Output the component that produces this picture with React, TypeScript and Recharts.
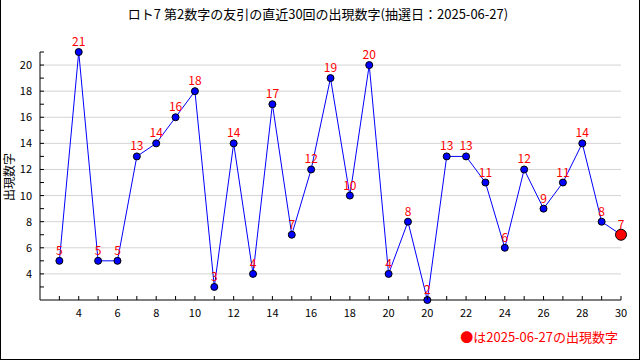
import React from 'react';
import { LineChart, Line, XAxis, YAxis, ReferenceLine, LabelList } from 'recharts';

const draws = [1, 2, 3, 4, 5, 6, 7, 8, 9, 10, 11, 12, 13, 14, 15, 16, 17, 18, 19, 20, 21, 22, 23, 24, 25, 26, 27, 28, 29, 30];
const values = [5, 21, 5, 5, 13, 14, 16, 18, 3, 14, 4, 17, 7, 12, 19, 10, 20, 4, 8, 2, 13, 13, 11, 6, 12, 9, 11, 14, 8, 7];

const xLabelPositions = [2, 4, 6, 8, 10, 12, 14, 16, 18, 20, 22, 24, 26, 28, 30];
const xLabelTexts = ['4', '6', '8', '10', '12', '14', '16', '18', '20', '20', '22', '24', '26', '28', '30'];

const yTicks = [3, 4, 5, 6, 7, 8, 9, 10, 11, 12, 13, 14, 15, 16, 17, 18, 19, 20, 21];
const yLabelValues = [4, 6, 8, 10, 12, 14, 16, 18, 20];
const yDomain = [2, 21];

const title = 'ロト7 第2数字の友引の直近30回の出現数字(抽選日：2025-06-27)';
const yAxisTitle = '出現数字';
const legendText = '●は2025-06-27の出現数字';

const data = draws.map((d, i) => ({ draw: d, value: values[i] }));

const FONT = '"Noto Sans CJK JP", "DejaVu Sans", sans-serif';

const renderXTick = (props: any) => {
  const { x, y, payload } = props;
  const idx = xLabelPositions.indexOf(payload.value);
  return (
    <g>
      <line x1={x} y1={y} x2={x} y2={y - 4} stroke="#000" strokeWidth={1} />
      {idx >= 0 && (
        <text x={x} y={y + 17} textAnchor="middle" fontSize={11} fontFamily={FONT} fill="#000">
          {xLabelTexts[idx]}
        </text>
      )}
    </g>
  );
};

const renderYTick = (props: any) => {
  const { x, y, payload } = props;
  const show = yLabelValues.indexOf(payload.value) >= 0;
  return (
    <g>
      <line x1={x} y1={y} x2={x + 4} y2={y} stroke="#000" strokeWidth={1} />
      {show && (
        <text x={x - 8} y={y + 4} textAnchor="end" fontSize={11} fontFamily={FONT} fill="#000">
          {payload.value}
        </text>
      )}
    </g>
  );
};

const renderDot = (props: any) => {
  const { cx, cy, index } = props;
  const last = index === values.length - 1;
  return (
    <circle
      key={`dot-${index}`}
      cx={cx}
      cy={cy}
      r={last ? 5.5 : 3.5}
      fill={last ? '#ff0000' : '#0000ff'}
      stroke="#000"
      strokeWidth={1}
    />
  );
};

const renderLabel = (props: any) => {
  const { x, y, value, index } = props;
  return (
    <text key={`lbl-${index}`} x={x} y={y - 6} textAnchor="middle" fontSize={12} fontFamily={FONT} fill="#ff0000">
      {value}
    </text>
  );
};

export default function App() {
  return (
    <div style={{ position: 'fixed', left: 0, top: 0, width: 640, height: 360, background: '#fff' }}>
      <LineChart
        width={640}
        height={360}
        data={data}
        margin={{ top: 52, right: 19, bottom: 0, left: 0 }}
      >
        <XAxis
          dataKey="draw"
          type="number"
          domain={[0, 30]}
          ticks={draws}
          interval={0}
          tickSize={0}
          tickMargin={0}
          tickLine={false}
          height={60}
          axisLine={{ stroke: '#000' }}
          tick={renderXTick}
        />
        <YAxis
          type="number"
          domain={yDomain}
          ticks={yTicks}
          interval={0}
          tickSize={0}
          tickMargin={0}
          tickLine={false}
          width={40}
          axisLine={{ stroke: '#000' }}
          tick={renderYTick}
        />
        {yLabelValues.map((v) => (
          <ReferenceLine key={`g-${v}`} y={v} stroke="#d4d4d4" strokeWidth={1} />
        ))}
        <Line
          type="linear"
          dataKey="value"
          stroke="#0000ff"
          strokeWidth={1}
          dot={renderDot}
          activeDot={false}
          isAnimationActive={false}
        >
          <LabelList dataKey="value" content={renderLabel} />
        </Line>
      </LineChart>
      <svg
        width={640}
        height={360}
        style={{ position: 'absolute', left: 0, top: 0, pointerEvents: 'none' }}
      >
        <text x={318} y={19} textAnchor="middle" fontSize={13} fontFamily={FONT} fill="#000">
          {title}
        </text>
        <text
          x={14}
          y={177}
          textAnchor="middle"
          fontSize={12}
          fontFamily={FONT}
          fill="#000"
          transform="rotate(-90 14 177)"
        >
          {yAxisTitle}
        </text>
        <text x={618} y={342} textAnchor="end" fontSize={13} fontFamily={FONT} fill="#ff0000">
          {legendText}
        </text>
        <line x1={0.5} y1={0} x2={0.5} y2={359.5} stroke="#000" strokeWidth={1} />
        <line x1={639.5} y1={0} x2={639.5} y2={359.5} stroke="#000" strokeWidth={1} />
        <line x1={0} y1={359.5} x2={640} y2={359.5} stroke="#000" strokeWidth={1} />
      </svg>
    </div>
  );
}
